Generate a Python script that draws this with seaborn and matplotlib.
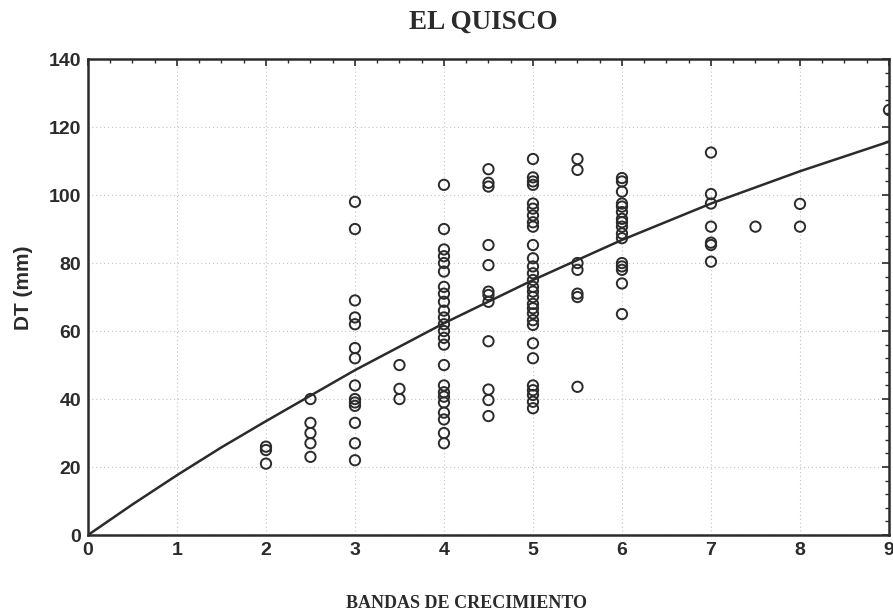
import numpy as np
import pandas as pd
import matplotlib
matplotlib.use("Agg")
import matplotlib.pyplot as plt
from matplotlib.ticker import MultipleLocator
import seaborn as sns

# DT (mm) per number of growth bands
DT_BY_BANDS = {
    2.0: [26, 25, 21],
    2.5: [40, 33, 30, 27, 23],
    3.0: [98, 90, 69, 64, 62, 55, 52, 44, 40, 39, 38, 33, 27, 22],
    3.5: [50, 43, 40],
    4.0: [103, 90, 84, 82, 80, 77.5, 73, 71, 68.6, 66, 64, 62, 60, 58, 56,
          50, 44, 42, 40.7, 39, 36, 34, 30, 27],
    4.5: [107.6, 103.6, 102.5, 85.3, 79.4, 71.6, 70.6, 68.6, 57, 42.8, 39.7, 35],
    5.0: [110.6, 105.2, 104, 103, 97.5, 96, 94, 92, 90.7, 85.3, 81.4, 79, 77,
          75, 73, 71.6, 70, 68, 66.7, 65.2, 63.2, 61.8, 56.4, 52, 44, 42.6,
          41.2, 39.2, 37.3],
    5.5: [110.6, 107.4, 80, 78, 71, 70, 43.6],
    6.0: [105, 104, 101, 97.5, 96.6, 95, 93, 92, 90.7, 88.7, 87.3, 80, 79,
          78, 74, 65],
    7.0: [112.5, 100.3, 97.5, 90.7, 86, 85.3, 80.4],
    7.5: [90.7],
    8.0: [97.4, 90.7],
    9.0: [125],
}

# fitted curve
CURVE_X = [0, 0.5, 1, 1.5, 2, 3, 4, 5, 6, 7, 8, 9]
CURVE_Y = [0, 9.0, 17.6, 25.8, 33.5, 48.5, 62.3, 75.0, 86.8, 97.5, 107.0, 115.7]

TITLE = "EL QUISCO"
XLABEL = "BANDAS DE CRECIMIENTO"
YLABEL = "DT (mm)"

rows = [(b, v) for b, vals in DT_BY_BANDS.items() for v in vals]
df = pd.DataFrame(rows, columns=["bandas", "dt"])

sns.set_style("white")
plt.rcParams["font.family"] = ["Liberation Sans", "DejaVu Sans"]

INK = "#2b2b2b"
SERIF = ["Liberation Serif", "DejaVu Serif"]

fig = plt.figure(figsize=(8.93, 6.15), dpi=100)
ax = fig.add_axes([0.0985, 0.130, 0.897, 0.774])

sns.lineplot(x=CURVE_X, y=CURVE_Y, ax=ax, color=INK, lw=1.8, zorder=3)
sns.scatterplot(data=df, x="bandas", y="dt", ax=ax, marker="o", s=55,
                facecolor="none", edgecolor=INK, linewidth=1.4, zorder=4)

ax.set_xlim(0, 9)
ax.set_ylim(0, 140)
ax.xaxis.set_major_locator(MultipleLocator(1))
ax.xaxis.set_minor_locator(MultipleLocator(0.25))
ax.yaxis.set_major_locator(MultipleLocator(20))
ax.yaxis.set_minor_locator(MultipleLocator(4))

ax.grid(True, which="major", color="#c4c4c4", linestyle=(0, (1, 2.5)), lw=0.8)
ax.set_axisbelow(True)

ax.tick_params(which="both", direction="in", top=True, right=True,
               color=INK, labelsize=14, labelcolor=INK)
ax.tick_params(which="major", length=5, width=1.2)
ax.tick_params(which="minor", length=3, width=1.0)
ax.tick_params(axis="y", which="major", pad=5)
ax.tick_params(axis="x", which="major", pad=5)
for lab in ax.get_xticklabels() + ax.get_yticklabels():
    lab.set_fontweight("bold")

for sp in ax.spines.values():
    sp.set_color(INK)
    sp.set_linewidth(1.8)

ax.set_ylabel(YLABEL, fontsize=15, fontweight="bold", color=INK, labelpad=10)
ax.yaxis.set_label_coords(-0.068, 0.52)
ax.set_xlabel(XLABEL, fontsize=13, fontweight="bold", color=INK,
              family=SERIF)
ax.xaxis.set_label_coords(0.472, -0.125)
ax.set_title(TITLE, fontsize=19.5, fontweight="bold", color=INK, pad=22,
             family=SERIF)
ax.title.set_position((0.494, 1.0))

fig.savefig("out.png", dpi=100)
